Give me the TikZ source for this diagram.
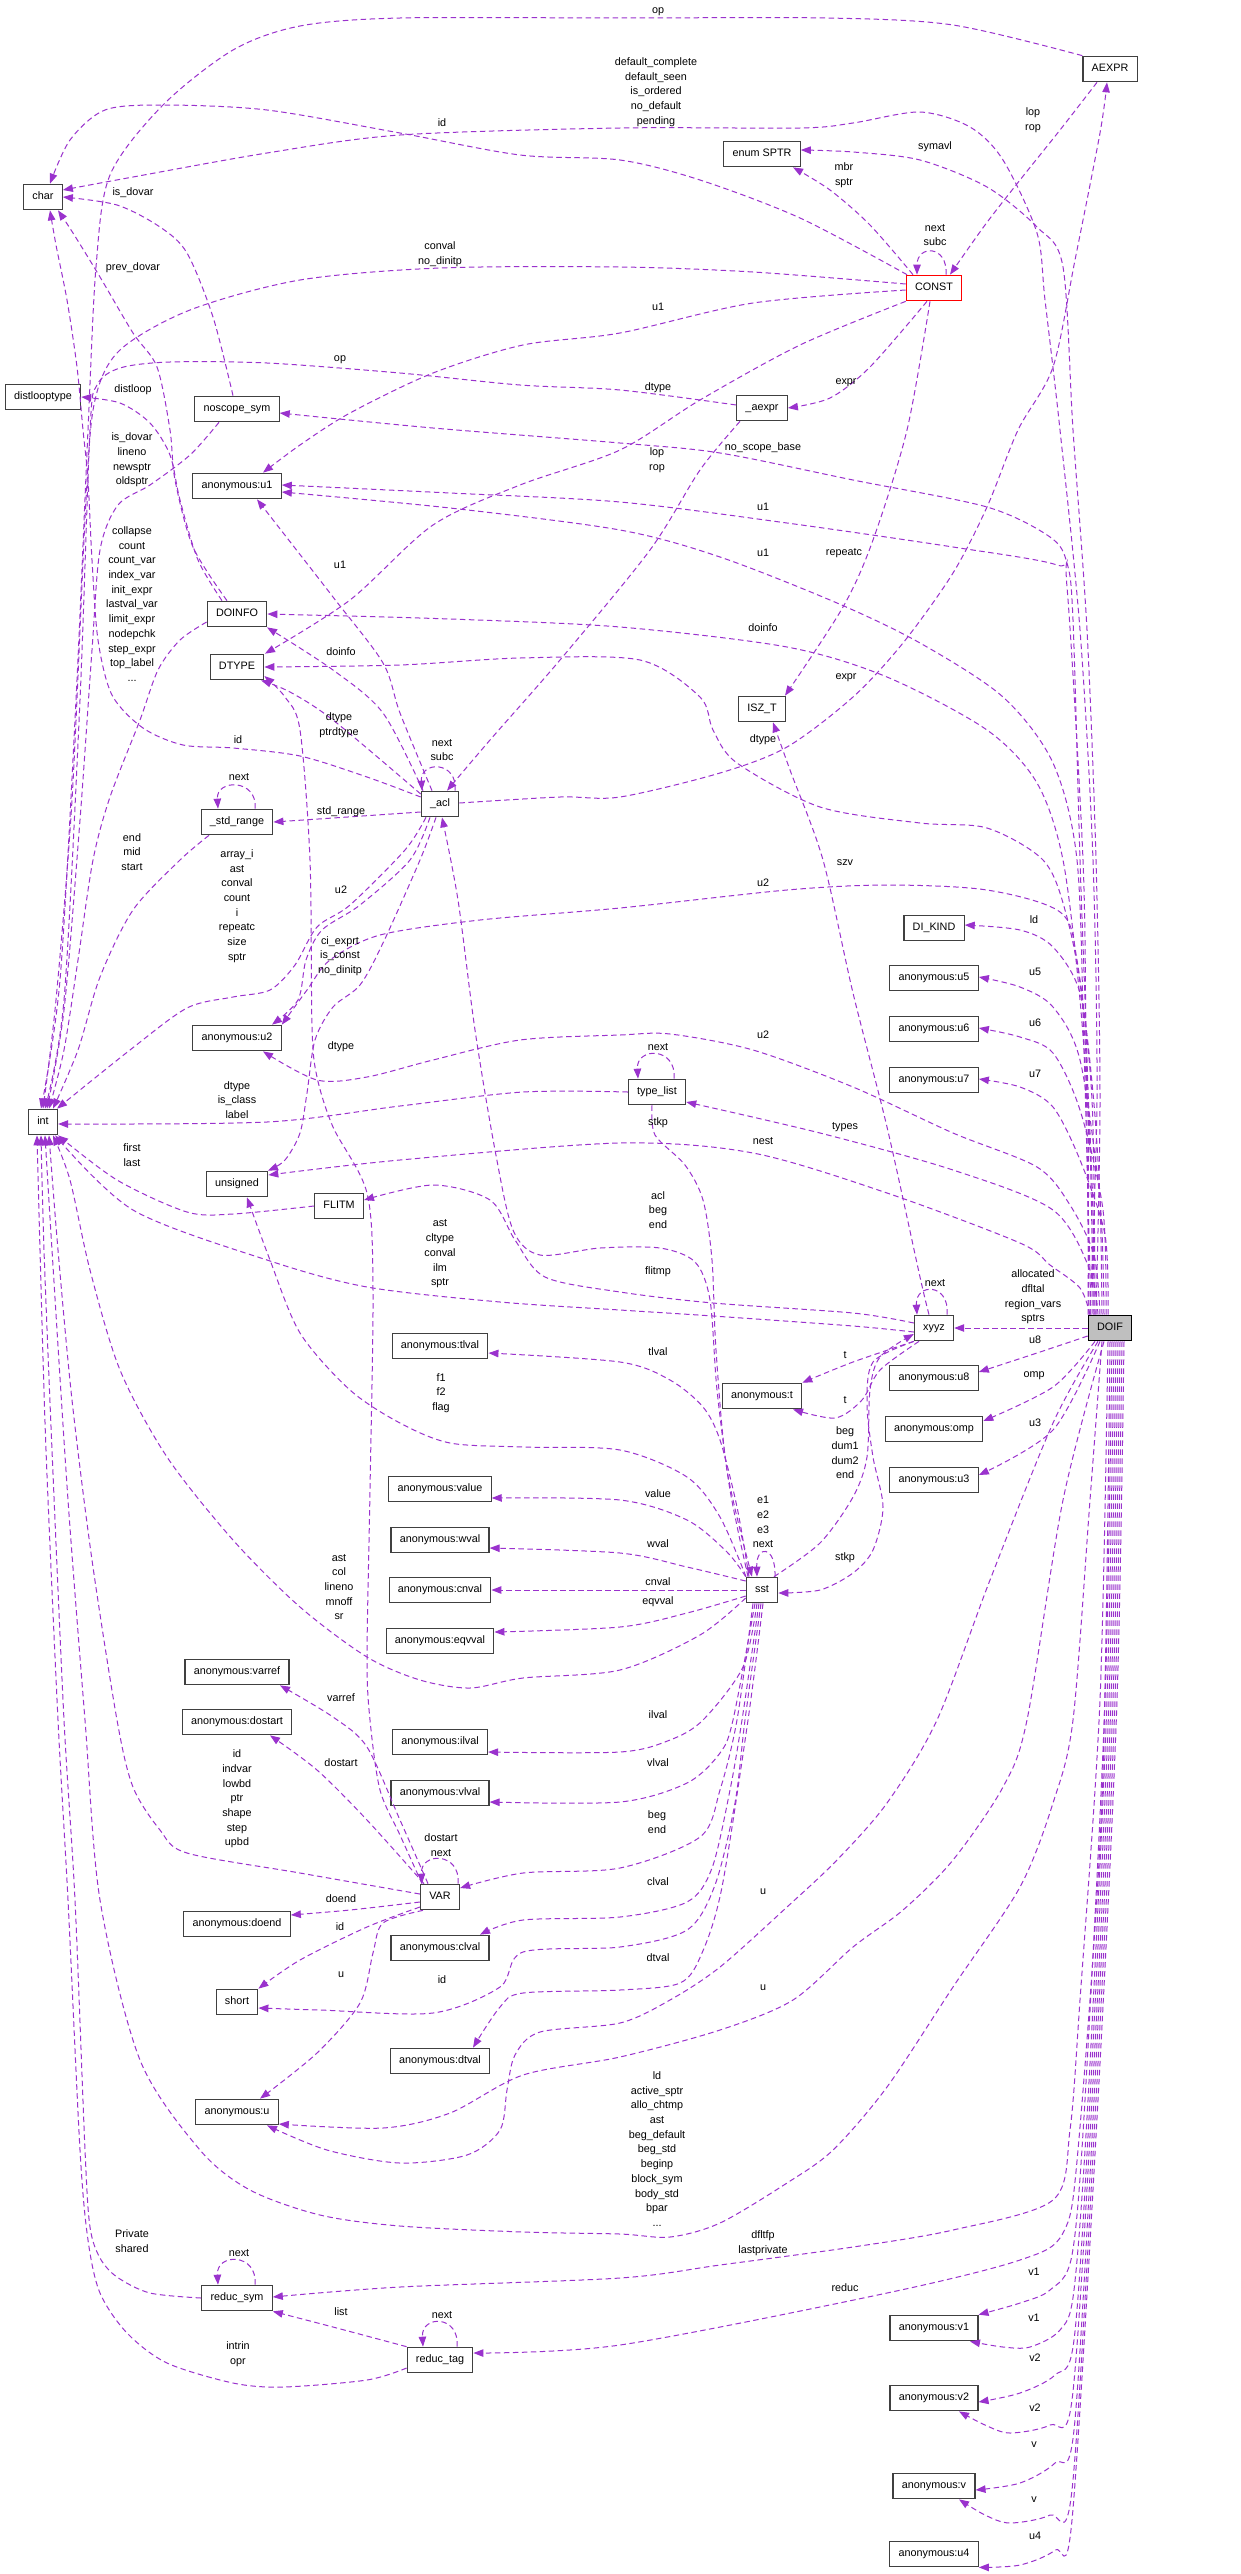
\documentclass[tikz,border=0pt]{standalone}
\usepackage{fontspec}
\setmainfont{Liberation Sans}
\usetikzlibrary{arrows.meta}

\definecolor{edgecol}{HTML}{9A32CD}
\definecolor{boxline}{HTML}{404040}
\definecolor{rootfill}{HTML}{BFBFBF}
\newcommand{\gfont}{\fontsize{10.8bp}{14.7bp}\selectfont}

\tikzset{
  cls/.style={draw=boxline, line width=1.2bp, fill=white, minimum height=25.5bp,
    inner xsep=8.8bp, inner ysep=0pt, text height=8bp, text depth=2.6bp, font=\gfont},
  lnk/.style={draw=edgecol, line width=1bp, dash pattern=on 5.5bp off 3.5bp,
    -{Triangle[length=10bp,width=7.5bp]}},
  lbl/.style={inner sep=0pt, align=center, font=\gfont},
}

\begin{document}
\begin{tikzpicture}[x=1bp,y=-1bp]
\useasboundingbox (0,0) rectangle (1240,2574);
\fill[white] (0,0) rectangle (1240,2574);

\node[cls] (char) at (43,197) {char};
\node[cls] (distlooptype) at (43,397) {distlooptype};
\node[cls] (int) at (43,1122) {int};

\node[cls] (noscope) at (237,409) {noscope\_sym};
\node[cls] (anonU1) at (237,486) {anonymous:u1};
\node[cls] (DOINFO) at (237,614) {DOINFO};
\node[cls] (DTYPE) at (237,667) {DTYPE};
\node[cls] (stdrange) at (237,822) {\_std\_range};
\node[cls] (anonU2) at (237,1038) {anonymous:u2};
\node[cls] (unsigned) at (237,1184) {unsigned};
\node[cls] (FLITM) at (339,1206) {FLITM};
\node[cls] (anonVarref) at (237,1672) {anonymous:varref};
\node[cls] (anonDostart) at (237,1722) {anonymous:dostart};
\node[cls] (anonDoend) at (237,1924) {anonymous:doend};
\node[cls] (short) at (237,2002) {short};
\node[cls] (anonU) at (237,2112) {anonymous:u};
\node[cls] (reducsym) at (237,2298) {reduc\_sym};

\node[cls] (acl) at (440,804) {\_acl};
\node[cls] (anonTlval) at (440,1346) {anonymous:tlval};
\node[cls] (anonValue) at (440,1489) {anonymous:value};
\node[cls] (anonWval) at (440,1540) {anonymous:wval};
\node[cls] (anonCnval) at (440,1590) {anonymous:cnval};
\node[cls] (anonEqvval) at (440,1641) {anonymous:eqvval};
\node[cls] (anonIlval) at (440,1742) {anonymous:ilval};
\node[cls] (anonVlval) at (440,1793) {anonymous:vlval};
\node[cls] (VAR) at (440,1897) {VAR};
\node[cls] (anonClval) at (440,1948) {anonymous:clval};
\node[cls] (anonDtval) at (440,2061) {anonymous:dtval};
\node[cls] (reductag) at (440,2360) {reduc\_tag};

\node[cls] (typelist) at (657,1092) {type\_list};
\node[cls] (SPTR) at (762,154) {enum SPTR};
\node[cls] (aexpr) at (762,408) {\_aexpr};
\node[cls] (ISZT) at (762,709) {ISZ\_T};
\node[cls] (anonT) at (762,1396) {anonymous:t};
\node[cls] (sst) at (762,1590) {sst};

\node[cls, draw=red] (CONST) at (934,288) {CONST};
\node[cls] (DIKIND) at (934,928) {DI\_KIND};
\node[cls] (anonU5) at (934,978) {anonymous:u5};
\node[cls] (anonU6) at (934,1029) {anonymous:u6};
\node[cls] (anonU7) at (934,1080) {anonymous:u7};
\node[cls] (xyyz) at (934,1328) {xyyz};
\node[cls] (anonU8) at (934,1378) {anonymous:u8};
\node[cls] (anonOmp) at (934,1429) {anonymous:omp};
\node[cls] (anonU3) at (934,1480) {anonymous:u3};
\node[cls] (anonV1) at (934,2328) {anonymous:v1};
\node[cls] (anonV2) at (934,2398) {anonymous:v2};
\node[cls] (anonV) at (934,2486) {anonymous:v};
\node[cls] (anonU4) at (934,2554) {anonymous:u4};

\node[cls] (AEXPR) at (1110,69) {AEXPR};
\node[cls, draw=black, fill=rootfill] (DOIF) at (1110,1328) {DOIF};

% edges into char and int from the upper part
\draw[lnk] plot[smooth] coordinates {(AEXPR.north west) (953,25) (827,18) (620,18) (400,18) (300,26) (233,50) (163,105) (110,175) (96,267) (88,430) (76,700) (60,980) ([xshift=-2bp]int.north)};
\draw[lnk] plot[smooth] coordinates {([yshift=4bp]CONST.west) (753,272) (620,267) (440,268) (300,280) (190,310) (120,350) (95,400) (86,500) (72,800) (56,1000) (int.north)};
\draw[lnk] plot[smooth] coordinates {([yshift=3bp]aexpr.west) (620,390) (520,385) (400,373) (267,363) (170,362) (120,368) (97,385) (90,430) (80,700) (64,1000) ([xshift=2bp]int.north)};
\draw[lnk] plot[smooth] coordinates {([xshift=-18bp]noscope.south) (190,455) (150,485) (118,505) (100,550) (92,650) (80,820) (64,1010) ([xshift=4bp]int.north)};
\draw[lnk] plot[smooth] coordinates {([yshift=-8bp]DOINFO.west) (180,640) (158,670) (140,720) (110,797) (93,860) (78,960) (64,1050) ([xshift=6bp]int.north)};
\draw[lnk] plot[smooth] coordinates {([xshift=-28bp]stdrange.south) (180,860) (133,910) (100,977) (78,1050) ([xshift=10bp]int.north)};
\draw[lnk] plot[smooth] coordinates {([xshift=-14bp]acl.south) (405,850) (350,905) (317,927) (295,965) (270,990) (233,997) (187,1008) (130,1050) ([xshift=14bp]int.north)};
\draw[lnk] plot[smooth] coordinates {(typelist.west) (523,1092) (400,1106) (267,1122) ([yshift=-2bp]int.east)};
\draw[lnk] plot[smooth] coordinates {(FLITM.west) (233,1214) (187,1212) (117,1180) (int.south east)};
\draw[lnk] plot[smooth] coordinates {([yshift=-4bp]xyyz.west) (853,1326) (713,1316) (620,1310) (500,1302) (367,1287) (267,1260) (133,1210) ([xshift=-3bp]int.south east)};
\draw[lnk] plot[smooth] coordinates {([yshift=-8bp]sst.west) (700,1635) (620,1670) (523,1678) (470,1688) (420,1680) (367,1657) (300,1607) (233,1540) (167,1457) (120,1370) (90,1270) (70,1180) ([xshift=10bp]int.south)};
\draw[lnk] plot[smooth] coordinates {([yshift=3bp]VAR.west) (300,1873) (187,1853) (160,1830) (133,1787) (117,1720) (92,1560) (72,1400) (58,1250) ([xshift=6bp]int.south)};
\draw[lnk] plot[smooth] coordinates {([xshift=-8bp]DOIF.south) (1090,1500) (1073,1720) (1053,1803) (1020,1887) (953,1987) (887,2087) (833,2150) (787,2183) (720,2223) (670,2237) (620,2234) (523,2232) (400,2226) (320,2215) (250,2190) (200,2150) (140,2060) (100,1900) (85,1720) (68,1500) (52,1250) ([xshift=2bp]int.south)};
\draw[lnk] plot[smooth] coordinates {(reducsym.west) (150,2293) (117,2277) (100,2258) (90,2227) (85,2150) (75,1900) (64,1720) (52,1450) (44,1250) ([xshift=-2bp]int.south)};
\draw[lnk] plot[smooth] coordinates {([yshift=-8bp]reductag.west) (367,2380) (283,2387) (233,2383) (167,2363) (127,2333) (100,2293) (88,2240) (80,2150) (68,1900) (58,1720) (46,1450) (40,1250) ([xshift=-6bp]int.south)};

\draw[lnk] plot[smooth] coordinates {([yshift=7bp]acl.west) (367,777) (300,756) (233,748) (183,745) (143,728) (112,695) (98,640) (92,560) (88,480) (83,430) (77,367) (67,300) (56,245) ([xshift=7bp]char.south)};
\draw[lnk] plot[smooth] coordinates {([xshift=-27bp]CONST.north) (800,218) (700,180) (620,160) (520,155) (400,133) (267,110) (163,105) (105,110) (70,140) ([xshift=7bp]char.north)};
\draw[lnk] plot[smooth] coordinates {([xshift=-20bp]DOIF.north) (1097,1100) (1093,860) (1080,630) (1060,430) (1045,300) (1037,233) (1003,160) (970,127) (920,112) (853,123) (800,128) (620,128) (400,135) (267,153) (133,177) ([yshift=7bp]char.east)};
\draw[lnk] plot[smooth] coordinates {([xshift=-4bp]noscope.north) (213,317) (187,253) (160,227) (117,205) (char.east)};
\draw[lnk] plot[smooth] coordinates {([xshift=-10bp]DOINFO.north) (193,547) (175,480) (170,430) (157,367) (133,333) (100,277) (73,233) ([xshift=15bp]char.south)};
\draw[lnk] plot[smooth] coordinates {([xshift=-15bp]DOINFO.north) (198,560) (180,500) (170,455) (150,423) (120,403) (distlooptype.east)};

% AEXPR, CONST and _aexpr
\draw[lnk] plot[smooth] coordinates {([xshift=-13bp]AEXPR.south) (1060,130) (1020,180) (985,225) ([xshift=16bp]CONST.north)};
\draw[lnk] ([xshift=12bp]CONST.north) .. controls +(2,-30) and +(0,-30) .. ([xshift=-17bp]CONST.north);
\draw[lnk] plot[smooth] coordinates {([xshift=-21bp]CONST.north) (870,225) (830,190) ([xshift=31bp]SPTR.south)};
\draw[lnk] plot[smooth] coordinates {([xshift=-14bp]DOIF.north) (1100,1100) (1096,860) (1087,630) (1073,430) (1063,267) (1037,227) (987,187) (920,160) (853,152) ([yshift=4bp]SPTR.east)};
\draw[lnk] plot[smooth] coordinates {([yshift=-2bp]CONST.west) (753,303) (620,333) (523,345) (433,373) (350,413) (300,445) ([xshift=26bp]anonU1.north)};
\draw[lnk] plot[smooth] coordinates {(CONST.south west) (800,345) (700,400) (620,450) (520,485) (433,525) (350,600) ([xshift=28bp]DTYPE.north)};
\draw[lnk] plot[smooth] coordinates {([xshift=-7bp]CONST.south) (870,367) (830,398) (aexpr.east)};
\draw[lnk] plot[smooth] coordinates {([xshift=-4bp]CONST.south) (907,430) (873,540) (843,607) ([xshift=23bp]ISZT.north)};
\draw[lnk] plot[smooth] coordinates {([yshift=1bp]acl.east) (560,797) (620,797) (720,773) (787,747) (853,697) (903,643) (953,573) (987,507) (1018,430) (1053,367) (1075,260) (1100,133) ([xshift=-3bp]AEXPR.south)};
\draw[lnk] plot[smooth] coordinates {([xshift=-22bp]aexpr.south) (700,470) (650,550) (560,660) (490,740) ([xshift=7bp]acl.north)};

% _acl
\draw[lnk] ([xshift=15bp]acl.north) .. controls +(3,-30) and +(-2,-30) .. ([xshift=-18bp]acl.north);
\draw[lnk] plot[smooth] coordinates {([xshift=-8bp]acl.north) (400,713) (383,663) (333,597) ([xshift=20bp]anonU1.south)};
\draw[lnk] plot[smooth] coordinates {([xshift=-17bp]acl.north) (383,713) (333,670) ([xshift=30bp]DOINFO.south)};
\draw[lnk] plot[smooth] coordinates {([yshift=10bp]acl.west) (333,720) (290,692) ([xshift=24bp]DTYPE.south)};
\draw[lnk] plot[smooth] coordinates {([yshift=-8bp]acl.west) (333,818) (stdrange.east)};
\draw[lnk] ([xshift=18bp]stdrange.north) .. controls +(3,-30) and +(-2,-30) .. ([xshift=-19bp]stdrange.north);
\draw[lnk] plot[smooth] coordinates {([xshift=-10bp]acl.south) (410,860) (360,905) (322,930) (306,960) (298,1000) ([xshift=35bp]anonU2.north)};
\draw[lnk] plot[smooth] coordinates {([xshift=-4bp]acl.south) (420,860) (383,943) (360,985) (333,1007) (315,1040) (307,1093) (300,1133) (285,1160) ([xshift=31bp]unsigned.north)};
\draw[lnk] plot[smooth] coordinates {([xshift=-14bp]sst.north) (730,1490) (717,1390) (710,1300) (695,1262) (660,1248) (600,1248) (540,1255) (513,1230) (495,1150) (475,1030) (458,900) ([xshift=2bp]acl.south)};

% DOIF upwards
\draw[lnk] plot[smooth] coordinates {([xshift=-22bp]DOIF.north) (1088,1100) (1080,860) (1073,620) (1067,563) (1050,537) (987,507) (853,480) (720,453) (620,443) (433,428) ([yshift=-4bp]noscope.east)};
\draw[lnk] plot[smooth] coordinates {([xshift=-21bp]DOIF.north) (1086,1050) (1083,860) (1067,587) (1057,565) (953,547) (787,523) (620,502) (450,493) ([yshift=1bp]anonU1.east)};
\draw[lnk] plot[smooth] coordinates {([xshift=-19bp]DOIF.north) (1084,1050) (1077,860) (1053,763) (1003,697) (920,643) (837,603) (720,557) (620,530) (450,508) ([yshift=-6bp]anonU1.east)};
\draw[lnk] plot[smooth] coordinates {([xshift=-17bp]DOIF.north) (1090,1150) (1080,1000) (1063,860) (1037,783) (987,730) (887,677) (787,647) (620,627) (450,619) (DOINFO.east)};
\draw[lnk] plot[smooth] coordinates {([xshift=-16bp]DOIF.north) (1092,1180) (1082,1000) (1065,910) (1043,860) (987,828) (920,823) (820,807) (737,763) (713,730) (700,697) (640,660) (520,658) (400,665) (DTYPE.east)};
\draw[lnk] plot[smooth] coordinates {([xshift=-15bp]DOIF.north) (1092,1100) (1077,960) (1060,912) (987,890) (887,885) (787,890) (620,908) (480,920) (380,935) (330,960) (307,990) (anonU2.north east)};
\draw[lnk] plot[smooth] coordinates {([xshift=-10bp]DOIF.north) (1094,1255) (1070,1205) (1037,1167) (953,1133) (853,1087) (753,1050) (670,1034) (620,1035) (520,1040) (433,1060) (367,1077) (317,1080) ([xshift=26bp]anonU2.south)};
\draw[lnk] plot[smooth] coordinates {([xshift=-8bp]DOIF.north) (1100,1200) (1093,1093) (1080,993) (1053,947) (1020,930) ([yshift=3bp]DIKIND.east)};
\draw[lnk] plot[smooth] coordinates {([xshift=-6bp]DOIF.north) (1100,1200) (1080,1060) (1053,1007) (1020,987) ([yshift=1bp]anonU5.east)};
\draw[lnk] plot[smooth] coordinates {([xshift=-4bp]DOIF.north) (1103,1210) (1080,1110) (1053,1053) (1020,1037) ([yshift=1bp]anonU6.east)};
\draw[lnk] plot[smooth] coordinates {([xshift=-2bp]DOIF.north) (1105,1235) (1080,1160) (1053,1107) (1020,1087) ([yshift=1bp]anonU7.east)};
\draw[lnk] plot[smooth] coordinates {([xshift=-12bp]DOIF.north) (1090,1270) (1053,1210) (953,1170) (820,1133) ([yshift=-10bp]typelist.east)};
\draw[lnk] ([xshift=17bp]typelist.north) .. controls +(3,-32) and +(-2,-32) .. ([xshift=-19bp]typelist.north);
\draw[lnk] plot[smooth] coordinates {([xshift=-20bp]DOIF.north) (1080,1288) (1050,1265) (1020,1243) (887,1193) (753,1153) (620,1143) (400,1160) ([yshift=9bp]unsigned.east)};
\draw[lnk] plot[smooth] coordinates {([xshift=-5bp]typelist.south) (655,1135) (685,1165) (703,1200) (712,1260) (716,1350) (727,1470) ([xshift=-10bp]sst.north)};

% xyyz
\draw[lnk] (DOIF.west) -- (xyyz.east);
\draw[lnk] ([xshift=13bp]xyyz.north) .. controls +(3,-32) and +(-2,-32) .. ([xshift=-17bp]xyyz.north);
\draw[lnk] plot[smooth] coordinates {([yshift=5bp]xyyz.west) (853,1313) (713,1303) (620,1292) (545,1277) (515,1240) (490,1200) (433,1185) ([yshift=6bp]FLITM.east)};
\draw[lnk] plot[smooth] coordinates {([xshift=-5bp]xyyz.north) (920,1277) (887,1127) (853,993) (823,860) (790,770) ([xshift=11bp]ISZT.south)};
\draw[lnk] plot[smooth] coordinates {(xyyz.south west) (853,1362) (anonT.north east)};
\draw[lnk] plot[smooth] coordinates {([xshift=-15bp]xyyz.south) (880,1370) (862,1400) (835,1418) ([xshift=31bp]anonT.south)};
\draw[lnk] plot[smooth] coordinates {([xshift=-20bp]xyyz.south) (873,1362) (867,1405) (873,1457) (883,1507) (873,1550) (853,1573) (820,1590) ([yshift=-3bp]sst.east)};
\draw[lnk] plot[smooth] coordinates {([xshift=12bp]sst.north) (820,1543) (853,1497) (867,1457) (870,1390) (880,1357) ([yshift=-6bp]xyyz.west)};
\draw[lnk] plot[smooth] coordinates {([yshift=-8bp]DOIF.west) (1037,1353) ([yshift=6bp]anonU8.east)};
\draw[lnk] plot[smooth] coordinates {([xshift=-15bp]DOIF.south) (1053,1387) ([yshift=8bp]anonOmp.east)};
\draw[lnk] plot[smooth] coordinates {([xshift=-10bp]DOIF.south) (1053,1430) ([yshift=5bp]anonU3.east)};

% sst
\draw[lnk] ([xshift=13bp]sst.north) .. controls +(1,-32) and +(-1,-32) .. ([xshift=-5bp]sst.north);
\draw[lnk] plot[smooth] coordinates {([xshift=-13bp]sst.north) (737,1507) (720,1440) (703,1407) (670,1380) (620,1362) ([yshift=-7bp]anonTlval.east)};
\draw[lnk] plot[smooth] coordinates {([xshift=-16bp]sst.north) (720,1517) (687,1477) (620,1450) (523,1447) (450,1443) (400,1423) (350,1390) (300,1333) (270,1260) ([xshift=10bp]unsigned.south)};
\draw[lnk] plot[smooth] coordinates {(sst.north west) (727,1552) (687,1520) (620,1500) ([yshift=-9bp]anonValue.east)};
\draw[lnk] plot[smooth] coordinates {([yshift=9bp]sst.west) (687,1567) (620,1553) ([yshift=-8bp]anonWval.east)};
\draw[lnk] (sst.west) -- (anonCnval.east);
\draw[lnk] plot[smooth] coordinates {([yshift=-6bp]sst.west) (687,1613) (620,1627) ([yshift=9bp]anonEqvval.east)};
\draw[lnk] plot[smooth] coordinates {([xshift=-5bp]sst.south) (743,1667) (703,1720) (670,1740) (620,1752) ([yshift=-10bp]anonIlval.east)};
\draw[lnk] plot[smooth] coordinates {([xshift=-7bp]sst.south) (733,1720) (720,1753) (687,1783) (620,1802) ([yshift=-9bp]anonVlval.east)};
\draw[lnk] plot[smooth] coordinates {([xshift=-9bp]sst.south) (737,1720) (720,1790) (700,1837) (620,1868) (523,1873) ([yshift=9bp]VAR.east)};
\draw[lnk] plot[smooth] coordinates {([xshift=-3bp]sst.south) (742,1720) (730,1790) (712,1868) (687,1902) (620,1917) (523,1920) ([xshift=40bp]anonClval.north)};
\draw[lnk] plot[smooth] coordinates {([xshift=-1bp]sst.south) (745,1720) (735,1803) (715,1885) (687,1930) (620,1947) (523,1952) (500,1987) (433,2013) (320,2010) ([yshift=-6bp]short.east)};
\draw[lnk] plot[smooth] coordinates {([xshift=1bp]sst.south) (748,1720) (722,1887) (702,1953) (680,1983) (620,1990) (523,1993) (500,2007) ([xshift=33bp]anonDtval.north)};

% VAR
\draw[lnk] ([xshift=18bp]VAR.north) .. controls +(3,-32) and +(-2,-32) .. ([xshift=-18bp]VAR.north);
\draw[lnk] plot[smooth] coordinates {([xshift=-18bp]VAR.north) (400,1835) (380,1790) (370,1720) (367,1657) (370,1490) (373,1290) (367,1193) (333,1127) (317,1077) (312,1027) (310,860) (300,730) (285,697) ([yshift=-9bp]DTYPE.east)};
\draw[lnk] plot[smooth] coordinates {([xshift=-12bp]VAR.north) (400,1820) (367,1747) (333,1717) ([xshift=43bp]anonVarref.south)};
\draw[lnk] plot[smooth] coordinates {([xshift=-16bp]VAR.north) (367,1820) (317,1770) ([xshift=33bp]anonDostart.south)};
\draw[lnk] plot[smooth] coordinates {([yshift=-5bp]VAR.west) (350,1910) ([yshift=9bp]anonDoend.east)};
\draw[lnk] plot[smooth] coordinates {([yshift=-10bp]VAR.west) (367,1927) (300,1960) (short.north east)};
\draw[lnk] plot[smooth] coordinates {([xshift=-17bp]VAR.south) (383,1923) (373,1953) (360,2003) (317,2053) ([xshift=23bp]anonU.north)};

% DOIF downwards
\draw[lnk] plot[smooth] coordinates {([xshift=-12bp]DOIF.south) (1053,1423) (990,1580) (937,1720) (887,1803) (837,1860) (787,1907) (720,1967) (670,2000) (620,2023) (540,2032) (515,2055) (507,2090) (500,2130) (467,2155) (400,2163) (327,2150) ([xshift=30bp]anonU.south)};
\draw[lnk] plot[smooth] coordinates {([xshift=-6bp]DOIF.south) (1063,1500) (1027,1720) (1003,1787) (953,1860) (903,1910) (853,1947) (793,2000) (720,2030) (620,2057) (523,2075) (450,2113) (383,2128) ([yshift=-12bp]anonU.east)};
\draw[lnk] plot[smooth] coordinates {([xshift=-2bp]DOIF.south) (1100,1700) (1080,2000) (1070,2130) (1053,2200) (953,2230) (853,2247) (720,2265) (620,2278) (400,2287) ([yshift=1bp]reducsym.east)};
\draw[lnk] plot[smooth] coordinates {(DOIF.south) (1102,1800) (1078,2150) (1063,2233) (1020,2260) (887,2293) (620,2345) ([yshift=7bp]reductag.east)};
\draw[lnk] plot[smooth] coordinates {(reductag.north west) (333,2327) (reducsym.south east)};
\draw[lnk] ([xshift=18bp]reducsym.north) .. controls +(3,-32) and +(-2,-32) .. ([xshift=-19bp]reducsym.north);
\draw[lnk] ([xshift=17bp]reductag.north) .. controls +(3,-32) and +(-2,-32) .. ([xshift=-17bp]reductag.north);
\draw[lnk] plot[smooth] coordinates {([xshift=2bp]DOIF.south) (1105,1700) (1085,2100) (1072,2255) (1050,2290) (1020,2303) (anonV1.north east)};
\draw[lnk] plot[smooth] coordinates {([xshift=4bp]DOIF.south) (1107,1700) (1088,2100) (1074,2290) (1060,2330) (1030,2347) (1003,2347) ([xshift=36bp]anonV1.south)};
\draw[lnk] plot[smooth] coordinates {([xshift=6bp]DOIF.south) (1109,1700) (1090,2100) (1074,2340) (1055,2375) (1020,2393) ([yshift=-4bp]anonV2.east)};
\draw[lnk] plot[smooth] coordinates {([xshift=8bp]DOIF.south) (1111,1700) (1092,2100) (1072,2400) (1050,2425) (1010,2433) (985,2425) ([xshift=25bp]anonV2.south)};
\draw[lnk] plot[smooth] coordinates {([xshift=10bp]DOIF.south) (1113,1700) (1094,2100) (1074,2430) (1055,2463) (1020,2483) ([yshift=-4bp]anonV.east)};
\draw[lnk] plot[smooth] coordinates {([xshift=12bp]DOIF.south) (1115,1700) (1096,2100) (1072,2490) (1050,2515) (1010,2523) (985,2515) ([xshift=25bp]anonV.south)};
\draw[lnk] plot[smooth] coordinates {([xshift=14bp]DOIF.south) (1117,1700) (1098,2100) (1072,2520) (1055,2550) (1020,2565) (anonU4.south east)};

% member names
\node[lbl] (l01) at (658,12) {op};
\node[lbl] (l02) at (656,92) {default\_complete\\default\_seen\\is\_ordered\\no\_default\\pending};
\node[lbl] (l03) at (442,123) {id};
\node[lbl] (l04) at (133,193) {is\_dovar};
\node[lbl] (l05) at (133,268) {prev\_dovar};
\node[lbl] (l06) at (440,254) {conval\\no\_dinitp};
\node[lbl] (l07) at (340,360) {op};
\node[lbl] (l08) at (133,390) {distloop};
\node[lbl] (l09) at (1033,120) {lop\\rop};
\node[lbl] (l10) at (935,147) {symavl};
\node[lbl] (l11) at (844,175) {mbr\\sptr};
\node[lbl] (l12) at (935,235) {next\\subc};
\node[lbl] (l13) at (658,307) {u1};
\node[lbl] (l14) at (658,388) {dtype};
\node[lbl] (l15) at (846,383) {expr};
\node[lbl] (l16) at (657,460) {lop\\rop};
\node[lbl] (l17) at (763,448) {no\_scope\_base};
\node[lbl] (l18) at (763,507) {u1};
\node[lbl] (l19) at (763,553) {u1};
\node[lbl] (l20) at (844,553) {repeatc};
\node[lbl] (l21) at (763,628) {doinfo};
\node[lbl] (l22) at (846,678) {expr};
\node[lbl] (l23) at (763,740) {dtype};
\node[lbl] (l24) at (132,460) {is\_dovar\\lineno\\newsptr\\oldsptr};
\node[lbl] (l25) at (340,565) {u1};
\node[lbl] (l26) at (132,604) {collapse\\count\\count\_var\\index\_var\\init\_expr\\lastval\_var\\limit\_expr\\nodepchk\\step\_expr\\top\_label\\...};
\node[lbl] (l27) at (341,652) {doinfo};
\node[lbl] (l28) at (339,725) {dtype\\ptrdtype};
\node[lbl] (l29) at (238,740) {id};
\node[lbl] (l30) at (442,750) {next\\subc};
\node[lbl] (l31) at (239,777) {next};
\node[lbl] (l32) at (341,812) {std\_range};
\node[lbl] (l33) at (132,852) {end\\mid\\start};
\node[lbl] (l34) at (237,906) {array\_i\\ast\\conval\\count\\i\\repeatc\\size\\sptr};
\node[lbl] (l35) at (341,890) {u2};
\node[lbl] (l36) at (340,956) {ci\_exprt\\is\_const\\no\_dinitp};
\node[lbl] (l37) at (341,1047) {dtype};
\node[lbl] (l38) at (237,1100) {dtype\\is\_class\\label};
\node[lbl] (l39) at (132,1155) {first\\last};
\node[lbl] (l40) at (440,1254) {ast\\cltype\\conval\\ilm\\sptr};
\node[lbl] (l41) at (845,863) {szv};
\node[lbl] (l42) at (763,883) {u2};
\node[lbl] (l43) at (1034,920) {ld};
\node[lbl] (l44) at (1035,972) {u5};
\node[lbl] (l45) at (1035,1023) {u6};
\node[lbl] (l46) at (1035,1074) {u7};
\node[lbl] (l47) at (763,1035) {u2};
\node[lbl] (l48) at (658,1047) {next};
\node[lbl] (l49) at (658,1123) {stkp};
\node[lbl] (l50) at (845,1127) {types};
\node[lbl] (l51) at (763,1141) {nest};
\node[lbl] (l52) at (658,1210) {acl\\beg\\end};
\node[lbl] (l53) at (658,1272) {flitmp};
\node[lbl] (l54) at (935,1283) {next};
\node[lbl] (l55) at (1033,1297) {allocated\\dfltal\\region\_vars\\sptrs};
\node[lbl] (l56) at (658,1352) {tlval};
\node[lbl] (l57) at (441,1393) {f1\\f2\\flag};
\node[lbl] (l58) at (845,1355) {t};
\node[lbl] (l59) at (1035,1340) {u8};
\node[lbl] (l60) at (1034,1376) {omp};
\node[lbl] (l61) at (1035,1423) {u3};
\node[lbl] (l62) at (845,1400) {t};
\node[lbl] (l63) at (845,1453) {beg\\dum1\\dum2\\end};
\node[lbl] (l64) at (763,1522) {e1\\e2\\e3\\next};
\node[lbl] (l65) at (658,1494) {value};
\node[lbl] (l66) at (845,1558) {stkp};
\node[lbl] (l67) at (658,1544) {wval};
\node[lbl] (l68) at (658,1582) {cnval};
\node[lbl] (l69) at (658,1602) {eqvval};
\node[lbl] (l70) at (339,1587) {ast\\col\\lineno\\mnoff\\sr};
\node[lbl] (l71) at (341,1698) {varref};
\node[lbl] (l72) at (658,1715) {ilval};
\node[lbl] (l73) at (341,1763) {dostart};
\node[lbl] (l74) at (237,1799) {id\\indvar\\lowbd\\ptr\\shape\\step\\upbd};
\node[lbl] (l75) at (658,1763) {vlval};
\node[lbl] (l76) at (441,1845) {dostart\\next};
\node[lbl] (l77) at (657,1822) {beg\\end};
\node[lbl] (l78) at (341,1899) {doend};
\node[lbl] (l79) at (340,1927) {id};
\node[lbl] (l80) at (658,1882) {clval};
\node[lbl] (l81) at (763,1892) {u};
\node[lbl] (l82) at (341,1975) {u};
\node[lbl] (l83) at (442,1980) {id};
\node[lbl] (l84) at (658,1958) {dtval};
\node[lbl] (l85) at (763,1988) {u};
\node[lbl] (l86) at (657,2149) {ld\\active\_sptr\\allo\_chtmp\\ast\\beg\_default\\beg\_std\\beginp\\block\_sym\\body\_std\\bpar\\...};
\node[lbl] (l87) at (132,2241) {Private\\shared};
\node[lbl] (l88) at (239,2253) {next};
\node[lbl] (l89) at (763,2243) {dfltfp\\lastprivate};
\node[lbl] (l90) at (341,2312) {list};
\node[lbl] (l91) at (442,2315) {next};
\node[lbl] (l92) at (238,2354) {intrin\\opr};
\node[lbl] (l93) at (845,2288) {reduc};
\node[lbl] (l94) at (1034,2272) {v1};
\node[lbl] (l95) at (1034,2318) {v1};
\node[lbl] (l96) at (1035,2358) {v2};
\node[lbl] (l97) at (1035,2408) {v2};
\node[lbl] (l98) at (1034,2445) {v};
\node[lbl] (l99) at (1034,2500) {v};
\node[lbl] (l100) at (1035,2536) {u4};

\end{tikzpicture}
\end{document}
